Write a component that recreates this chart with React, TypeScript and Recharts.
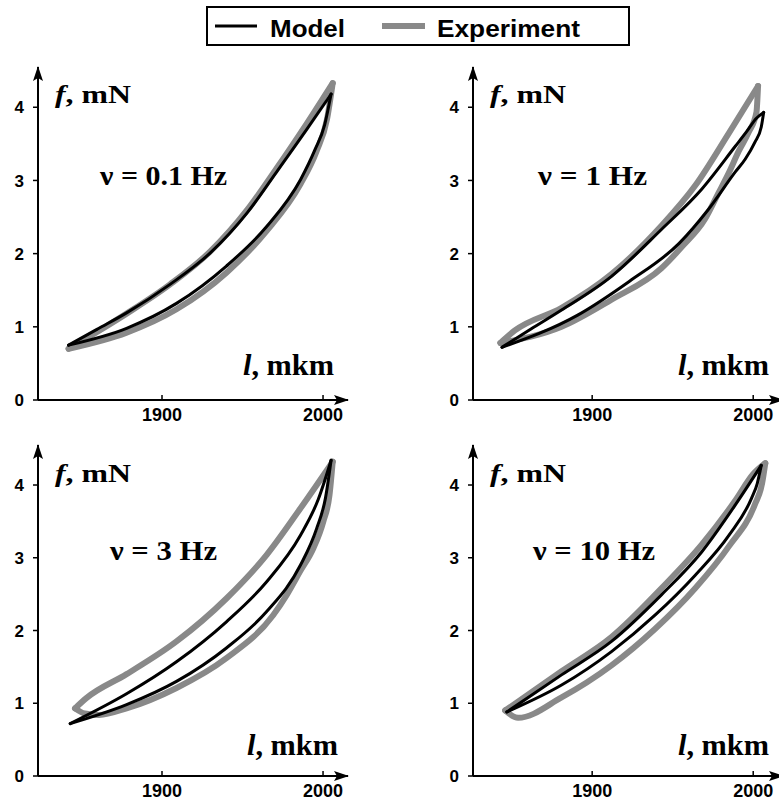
import { Line, LineChart, XAxis, YAxis } from 'recharts'

type Pt = { l: number; f: number }

const Y_TICKS = [0, 1, 2, 3, 4]
const X_TICKS = [1900, 2000]
const Y_DOMAIN: [number, number] = [0, 4.55]

// ν = 0.1 Hz
const model01Up: Pt[] = [
  { l: 1842, f: 0.75 }, { l: 1860, f: 0.97 }, { l: 1878, f: 1.19 }, { l: 1905, f: 1.58 },
  { l: 1930, f: 2.01 }, { l: 1953, f: 2.56 }, { l: 1971, f: 3.11 }, { l: 1990, f: 3.7 },
  { l: 2005, f: 4.18 },
]
const model01Down: Pt[] = [
  { l: 1842, f: 0.75 }, { l: 1878, f: 0.98 }, { l: 1909, f: 1.32 }, { l: 1940, f: 1.83 },
  { l: 1965, f: 2.37 }, { l: 1986, f: 3.01 }, { l: 1995, f: 3.42 }, { l: 2001, f: 3.76 },
  { l: 2005, f: 4.18 },
]
const exp01Up: Pt[] = [
  { l: 1842, f: 0.7 }, { l: 1878, f: 1.18 }, { l: 1905, f: 1.58 }, { l: 1930, f: 2.03 },
  { l: 1953, f: 2.6 }, { l: 1971, f: 3.16 }, { l: 1990, f: 3.78 }, { l: 2006, f: 4.33 },
]
const exp01Down: Pt[] = [
  { l: 1842, f: 0.7 }, { l: 1878, f: 0.92 }, { l: 1909, f: 1.24 }, { l: 1940, f: 1.74 },
  { l: 1965, f: 2.31 }, { l: 1986, f: 2.95 }, { l: 1996, f: 3.4 }, { l: 2002.5, f: 3.84 },
  { l: 2006, f: 4.33 },
]

// ν = 1 Hz
const model1Up: Pt[] = [
  { l: 1844, f: 0.72 }, { l: 1862, f: 0.97 }, { l: 1881, f: 1.23 }, { l: 1912, f: 1.69 },
  { l: 1943, f: 2.33 }, { l: 1968, f: 2.88 }, { l: 1989, f: 3.47 }, { l: 1996, f: 3.67 },
  { l: 2002, f: 3.85 }, { l: 2006.5, f: 3.93 },
]
const model1Down: Pt[] = [
  { l: 1844, f: 0.72 }, { l: 1891, f: 1.16 }, { l: 1923, f: 1.62 }, { l: 1954, f: 2.14 },
  { l: 1972, f: 2.6 }, { l: 1989, f: 3.12 }, { l: 1995, f: 3.29 }, { l: 2001, f: 3.52 },
  { l: 2005, f: 3.73 }, { l: 2006.5, f: 3.93 },
]
const exp1Up: Pt[] = [
  { l: 1843, f: 0.78 }, { l: 1852, f: 0.95 }, { l: 1881, f: 1.26 }, { l: 1912, f: 1.72 },
  { l: 1943, f: 2.38 }, { l: 1964, f: 2.93 }, { l: 1985, f: 3.65 }, { l: 2003, f: 4.29 },
]
const exp1Down: Pt[] = [
  { l: 1843, f: 0.78 }, { l: 1881, f: 1.0 }, { l: 1912, f: 1.37 }, { l: 1943, f: 1.8 },
  { l: 1956, f: 2.1 }, { l: 1970, f: 2.47 }, { l: 1978, f: 2.81 }, { l: 1985, f: 3.11 },
  { l: 1991, f: 3.4 }, { l: 1997, f: 3.65 }, { l: 2002, f: 3.93 }, { l: 2003, f: 4.29 },
]

// ν = 3 Hz
const model3Up: Pt[] = [
  { l: 1843, f: 0.72 }, { l: 1878, f: 1.13 }, { l: 1909, f: 1.57 }, { l: 1940, f: 2.12 },
  { l: 1965, f: 2.67 }, { l: 1986, f: 3.31 }, { l: 1997, f: 3.8 }, { l: 2005, f: 4.34 },
]
const model3Down: Pt[] = [
  { l: 1843, f: 0.72 }, { l: 1878, f: 0.98 }, { l: 1909, f: 1.3 }, { l: 1940, f: 1.76 },
  { l: 1965, f: 2.26 }, { l: 1986, f: 2.9 }, { l: 1996, f: 3.4 }, { l: 2001.5, f: 3.82 },
  { l: 2005, f: 4.34 },
]
const exp3Up: Pt[] = [
  { l: 1846, f: 0.93 }, { l: 1853, f: 1.07 }, { l: 1878, f: 1.4 }, { l: 1909, f: 1.85 },
  { l: 1940, f: 2.44 }, { l: 1965, f: 3.04 }, { l: 1986, f: 3.68 }, { l: 2006, f: 4.32 },
]
const exp3Down: Pt[] = [
  { l: 1846, f: 0.93 }, { l: 1852, f: 0.86 }, { l: 1861, f: 0.84 }, { l: 1878, f: 0.93 },
  { l: 1909, f: 1.21 }, { l: 1940, f: 1.62 }, { l: 1969, f: 2.21 }, { l: 1977.5, f: 2.49 },
  { l: 1985.7, f: 2.81 }, { l: 1994, f: 3.13 }, { l: 2000.2, f: 3.5 }, { l: 2004, f: 3.86 },
  { l: 2006, f: 4.32 },
]

// ν = 10 Hz
const model10Up: Pt[] = [
  { l: 1847, f: 0.88 }, { l: 1881, f: 1.39 }, { l: 1912, f: 1.85 }, { l: 1943, f: 2.49 },
  { l: 1968, f: 3.08 }, { l: 1989, f: 3.73 }, { l: 2005, f: 4.27 },
]
const model10Down: Pt[] = [
  { l: 1847, f: 0.88 }, { l: 1881, f: 1.25 }, { l: 1912, f: 1.71 }, { l: 1939, f: 2.21 },
  { l: 1964, f: 2.76 }, { l: 1985, f: 3.31 }, { l: 1999, f: 3.82 }, { l: 2002.5, f: 4.02 },
  { l: 2005, f: 4.27 },
]
const exp10Up: Pt[] = [
  { l: 1846, f: 0.9 }, { l: 1881, f: 1.44 }, { l: 1912, f: 1.91 }, { l: 1943, f: 2.58 },
  { l: 1968, f: 3.18 }, { l: 1989, f: 3.79 }, { l: 2000, f: 4.15 }, { l: 2007.5, f: 4.3 },
]
const exp10Down: Pt[] = [
  { l: 1846, f: 0.9 }, { l: 1854, f: 0.8 }, { l: 1881, f: 1.08 }, { l: 1912, f: 1.52 },
  { l: 1939, f: 2.02 }, { l: 1964, f: 2.58 }, { l: 1985, f: 3.16 }, { l: 2001, f: 3.73 },
  { l: 2005.5, f: 4.02 }, { l: 2007.5, f: 4.3 },
]

const GRAY = '#898989'
const SANS = '"Liberation Sans", Arial, sans-serif'
const SERIF = '"Liberation Serif", "Times New Roman", serif'

const PANELS = [
  {
    id: 'p01', left: 0, top: 55, height: 370, xDomain: [1823, 2015.5] as [number, number],
    model: [model01Up, model01Down], exp: [exp01Up, exp01Down],
    freq: 'ν = 0.1 Hz', fx: 55, fy: 103, vx: 100, vy: 185, vw: 127, lx: 243, ly: 375,
  },
  {
    id: 'p1', left: 435, top: 55, height: 370, xDomain: [1826, 2018.5] as [number, number],
    model: [model1Up, model1Down], exp: [exp1Up, exp1Down],
    freq: 'ν = 1 Hz', fx: 490, fy: 103, vx: 538, vy: 185, vw: 109, lx: 678, ly: 375,
  },
  {
    id: 'p3', left: 0, top: 433, height: 368, xDomain: [1823, 2015.5] as [number, number],
    model: [model3Up, model3Down], exp: [exp3Up, exp3Down],
    freq: 'ν = 3 Hz', fx: 55, fy: 482, vx: 110, vy: 560, vw: 107, lx: 247, ly: 755,
  },
  {
    id: 'p10', left: 435, top: 433, height: 368, xDomain: [1826, 2018.5] as [number, number],
    model: [model10Up, model10Down], exp: [exp10Up, exp10Down],
    freq: 'ν = 10 Hz', fx: 490, fy: 482, vx: 533, vy: 560, vw: 122, lx: 678, ly: 755,
  },
]

function XTick(props: any) {
  const { x, y, payload } = props
  return (
    <text
      x={x}
      y={y}
      dy="0.71em"
      textAnchor="middle"
      fontFamily={SANS}
      fontWeight={700}
      fontSize={18}
      fill="#000"
      textLength={40}
      lengthAdjust="spacingAndGlyphs"
    >
      {payload.value}
    </text>
  )
}

function YTick(props: any) {
  const { x, y, payload } = props
  return (
    <text
      x={x}
      y={y}
      dy="0.36em"
      textAnchor="end"
      fontFamily={SANS}
      fontWeight={700}
      fontSize={17}
      fill="#000"
    >
      {payload.value}
    </text>
  )
}

function Panel({ p }: { p: (typeof PANELS)[number] }) {
  return (
    <div style={{ position: 'absolute', left: p.left, top: p.top }}>
      <LineChart width={360} height={p.height} margin={{ top: 12, right: 12, bottom: 0, left: 0 }}>
        <XAxis
          dataKey="l"
          type="number"
          domain={p.xDomain}
          allowDataOverflow
          ticks={X_TICKS}
          tickSize={-5}
          tickMargin={13}
          height={25}
          tick={<XTick />}
          tickLine={{ stroke: '#000', strokeWidth: 1.5 }}
          axisLine={{ stroke: '#000', strokeWidth: 2, markerEnd: 'url(#axisArrow)' }}
        />
        <YAxis
          type="number"
          domain={Y_DOMAIN}
          allowDataOverflow
          ticks={Y_TICKS}
          width={38}
          tickSize={5}
          tickMargin={9}
          tick={<YTick />}
          tickLine={{ stroke: '#000', strokeWidth: 1.5 }}
          axisLine={{ stroke: '#000', strokeWidth: 2, markerStart: 'url(#axisArrow)' }}
        />
        {p.exp.map((d, i) => (
          <Line
            key={`e${i}`}
            data={d}
            dataKey="f"
            type="monotone"
            stroke={GRAY}
            strokeWidth={6}
            strokeLinecap="round"
            strokeLinejoin="round"
            dot={false}
            activeDot={false}
            isAnimationActive={false}
          />
        ))}
        {p.model.map((d, i) => (
          <Line
            key={`m${i}`}
            data={d}
            dataKey="f"
            type="monotone"
            stroke="#000"
            strokeWidth={3}
            strokeLinecap="round"
            strokeLinejoin="round"
            dot={false}
            activeDot={false}
            isAnimationActive={false}
          />
        ))}
      </LineChart>
    </div>
  )
}

export default function App() {
  return (
    <div
      style={{
        position: 'absolute', left: 0, top: 0, width: 779, height: 803,
        overflow: 'hidden', background: '#fff',
      }}
    >
      <svg width={0} height={0} style={{ position: 'absolute' }}>
        <defs>
          <marker
            id="axisArrow"
            markerUnits="userSpaceOnUse"
            markerWidth={15}
            markerHeight={10}
            viewBox="0 0 15 10"
            refX={14}
            refY={5}
            orient="auto-start-reverse"
          >
            <path d="M0,0 L15,5 L0,10 L3,5 z" fill="#000" />
          </marker>
        </defs>
      </svg>

      {PANELS.map((p) => (
        <Panel key={p.id} p={p} />
      ))}

      <svg
        width={779}
        height={803}
        style={{ position: 'absolute', left: 0, top: 0, pointerEvents: 'none' }}
      >
        {/* legend */}
        <rect x={207} y={7} width={422} height={38} fill="#fff" stroke="#000" strokeWidth={2} />
        <line x1={215} y1={26} x2={257} y2={26} stroke="#000" strokeWidth={3} />
        <text x={270} y={37} fontFamily={SANS} fontWeight={700} fontSize={24} textLength={75} lengthAdjust="spacingAndGlyphs">
          Model
        </text>
        <line x1={382} y1={26} x2={425} y2={26} stroke={GRAY} strokeWidth={6} />
        <text x={437} y={37} fontFamily={SANS} fontWeight={700} fontSize={24} textLength={143} lengthAdjust="spacingAndGlyphs">
          Experiment
        </text>

        {PANELS.map((p) => (
          <g key={p.id} fontFamily={SERIF} fontWeight={700} fill="#000">
            <text x={p.fx} y={p.fy} fontSize={25} textLength={76} lengthAdjust="spacingAndGlyphs">
              <tspan fontStyle="italic">f</tspan>, mN
            </text>
            <text x={p.vx} y={p.vy} fontSize={28} textLength={p.vw} lengthAdjust="spacingAndGlyphs">
              {p.freq}
            </text>
            <text x={p.lx} y={p.ly} fontSize={29} textLength={91} lengthAdjust="spacingAndGlyphs">
              <tspan fontStyle="italic">l</tspan>, mkm
            </text>
          </g>
        ))}
      </svg>
    </div>
  )
}
